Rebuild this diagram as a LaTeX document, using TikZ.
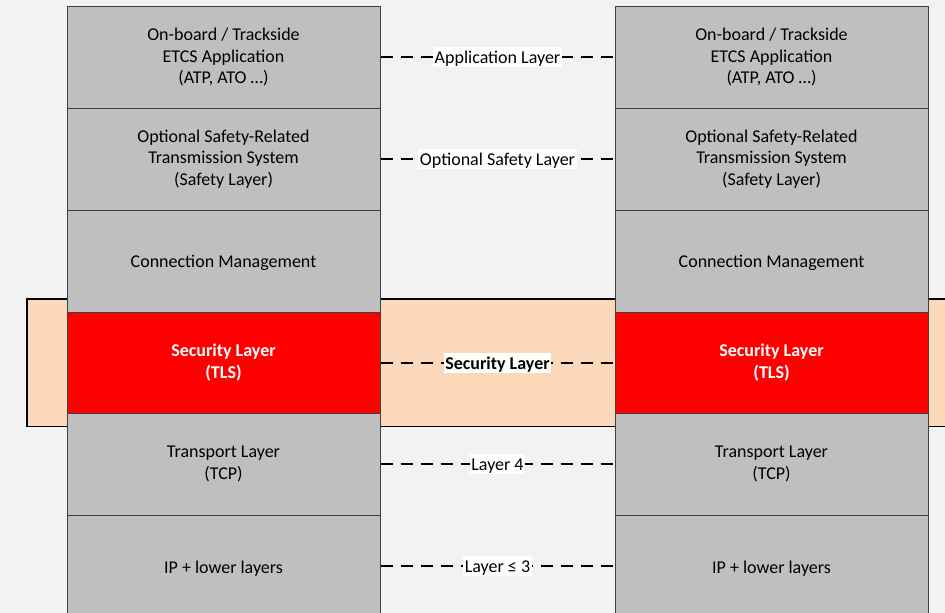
\documentclass[tikz,border=0pt]{standalone}
\usepackage{fontspec}
\setmainfont{Carlito}
\definecolor{bg}{HTML}{F2F2F2}
\definecolor{boxgray}{HTML}{BFBFBF}
\definecolor{edge}{HTML}{404040}
\definecolor{peach}{HTML}{FAD8B9}
\definecolor{secred}{HTML}{FF0000}
\begin{document}
\begin{tikzpicture}[x=1pt,y=-1pt,
  layerbox/.style={draw=edge,line width=1pt,fill=boxgray,minimum width=313pt,minimum height=102pt,inner sep=0pt,align=center,font=\fontsize{18}{21.5}\selectfont,text=black,execute at begin node={\rule{0pt}{17pt}}},
  secbox/.style={layerbox,fill=secred,text=white,font=\fontsize{18}{21.5}\selectfont\bfseries},
  peerline/.style={line width=1.6pt,dash pattern=on 12pt off 8pt,color=black},
  peerlabel/.style={fill=white,inner xsep=1.5pt,inner ysep=2pt,text height=14pt,text depth=2pt,font=\fontsize{18}{21}\selectfont,text=black}
]
\useasboundingbox (0,0) rectangle (945,613);
\clip (0,0) rectangle (945,613);
\fill[bg] (0,0) rectangle (945,613);
% security band
\draw[fill=peach,line width=1.3pt] (27,299) rectangle (960,426.5);
% left stack
\node[layerbox] (L1) at (223.5,57) {On-board / Trackside\\ETCS Application\\(ATP, ATO \dots)};
\node[layerbox] (L2) at (223.5,159) {Optional Safety-Related\\Transmission System\\(Safety Layer)};
\node[layerbox] (L3) at (223.5,261) {Connection Management};
\node[secbox,minimum height=101pt] (L4) at (223.5,362.5) {Security Layer\\(TLS)};
\node[layerbox] (L5) at (223.5,464) {Transport Layer\\(TCP)};
\node[layerbox] (L6) at (223.5,566) {IP + lower layers};
% right stack
\node[layerbox] (R1) at (771.5,57) {On-board / Trackside\\ETCS Application\\(ATP, ATO \dots)};
\node[layerbox] (R2) at (771.5,159) {Optional Safety-Related\\Transmission System\\(Safety Layer)};
\node[layerbox] (R3) at (771.5,261) {Connection Management};
\node[secbox,minimum height=101pt] (R4) at (771.5,362.5) {Security Layer\\(TLS)};
\node[layerbox] (R5) at (771.5,464) {Transport Layer\\(TCP)};
\node[layerbox] (R6) at (771.5,566) {IP + lower layers};
% peer connectors
\draw[peerline] (L1.east) -- node[peerlabel,solid] {Application Layer} (R1.west);
\draw[peerline] (L2.east) -- node[peerlabel,solid] {Optional Safety Layer} (R2.west);
\draw[peerline] ([yshift=-0.5pt]L4.east) -- node[peerlabel,solid,font=\fontsize{18}{21}\selectfont\bfseries] {Security Layer} ([yshift=-0.5pt]R4.west);
\draw[peerline] (L5.east) -- node[peerlabel,solid] {Layer 4} (R5.west);
\draw[peerline] (L6.east) -- node[peerlabel,solid] {Layer ≤ 3} (R6.west);
\end{tikzpicture}
\end{document}
